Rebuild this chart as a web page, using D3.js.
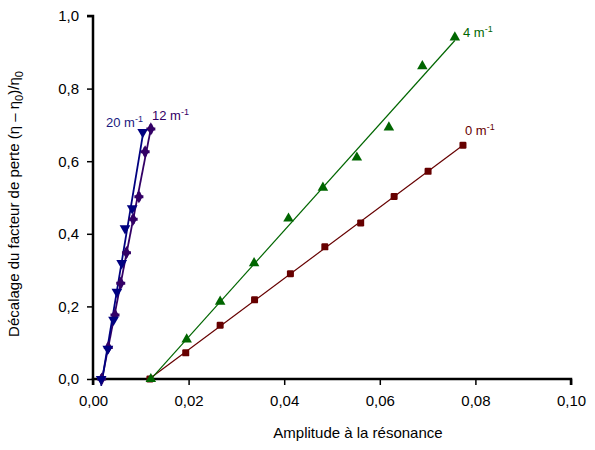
<!DOCTYPE html>
<html><head><meta charset="utf-8">
<script src="https://cdn.jsdelivr.net/npm/d3@7"></script>
<style>body{margin:0;background:#fff}svg{display:block}text{font-family:"Liberation Sans",Arial,sans-serif}</style>
</head><body>
<svg id="c" width="595" height="450"></svg>
<script>
const xTicks = [0, 0.02, 0.04, 0.06, 0.08, 0.10];
const yTicks = [0, 0.2, 0.4, 0.6, 0.8, 1.0];
const xTickLabels = ["0,00", "0,02", "0,04", "0,06", "0,08", "0,10"];
const yTickLabels = ["0,0", "0,2", "0,4", "0,6", "0,8", "1,0"];

const seriesNames = ["0", "4", "12", "20"];
const s0X = [0.0119, 0.0194, 0.0266, 0.0338, 0.0413, 0.0485, 0.0560, 0.0630, 0.0701, 0.0774];
const s0Y = [0.000, 0.072, 0.148, 0.218, 0.290, 0.364, 0.430, 0.503, 0.572, 0.644];
const s4X = [0.0121, 0.0196, 0.0266, 0.0337, 0.0409, 0.0481, 0.0552, 0.0619, 0.0689, 0.0757];
const s4Y = [0.000, 0.109, 0.213, 0.319, 0.442, 0.527, 0.610, 0.693, 0.862, 0.941];
const s12X = [0.0018, 0.0032, 0.0046, 0.0058, 0.0070, 0.0084, 0.0096, 0.0109, 0.0121];
const s12Y = [0.000, 0.087, 0.176, 0.264, 0.348, 0.440, 0.502, 0.626, 0.689];
const s20X = [0.0017, 0.0031, 0.0043, 0.0050, 0.0060, 0.0067, 0.0082, 0.0104];
const s20Y = [0.000, 0.083, 0.163, 0.240, 0.319, 0.415, 0.470, 0.680];

const svg = d3.select("#c");
const x = d3.scaleLinear().domain([0, 0.1]).range([93, 571]);
const y = d3.scaleLinear().domain([0, 1]).range([379, 16]);

function fit(xs, ys) {
  const n = xs.length, mx = d3.mean(xs), my = d3.mean(ys);
  let sxy = 0, sxx = 0;
  for (let i = 0; i < n; i++) { sxy += (xs[i]-mx)*(ys[i]-my); sxx += (xs[i]-mx)**2; }
  const b = sxy / sxx, a = my - b*mx;
  const x0 = d3.min(xs), x1 = d3.max(xs);
  return [[x0, a + b*x0], [x1, a + b*x1]];
}

const series = [
  {name: "0", xs: s0X, ys: s0Y, color: "#660000", sym: "square"},
  {name: "4", xs: s4X, ys: s4Y, color: "#006600", sym: "tri"},
  {name: "12", xs: s12X, ys: s12Y, color: "#330066", sym: "star"},
  {name: "20", xs: s20X, ys: s20Y, color: "#000080", sym: "tridown"}
];

// axes
const gx = svg.append("g").attr("transform", "translate(0,379)")
  .call(d3.axisBottom(x).tickValues(xTicks).tickFormat((d,i)=>xTickLabels[i]).tickSize(6).tickPadding(10));
const gy = svg.append("g").attr("transform", "translate(93,0)")
  .call(d3.axisLeft(y).tickValues(yTicks).tickFormat((d,i)=>yTickLabels[i]).tickSize(6).tickPadding(8));
[gx, gy].forEach(g => {
  g.select(".domain").attr("stroke", "#000").attr("stroke-width", 2.5);
  g.selectAll(".tick line").attr("stroke", "#000").attr("stroke-width", 1.5);
  g.selectAll(".tick text").attr("fill", "#000").style("font-size", "15px").style("font-family", '"Liberation Sans",Arial,sans-serif');
});
gy.select(".domain").attr("d", "M-6,16H0V379");
gx.select(".domain").attr("d", "M93,6V0H571V6");

// lines and markers
const line = d3.line().x(d => x(d[0])).y(d => y(d[1]));
series.forEach(s => {
  svg.append("path").attr("d", line(fit(s.xs, s.ys))).attr("fill", "none")
    .attr("stroke", s.color).attr("stroke-width", s.sym === "star" || s.sym === "tridown" ? 1.8 : 1.2);
});
series.forEach(s => {
  const g = svg.append("g").attr("fill", s.color);
  s.xs.forEach((xv, i) => {
    const cx = x(xv), cy = y(s.ys[i]);
    if (s.sym === "square") {
      g.append("rect").attr("x", cx-3.5).attr("y", cy-3.5).attr("width", 7).attr("height", 7).attr("rx", 1.2);
    } else if (s.sym === "tri") {
      g.append("path").attr("d", d3.symbol(d3.symbolTriangle, 48)()).attr("transform", `translate(${cx},${cy})`);
    } else if (s.sym === "tridown") {
      g.append("path").attr("d", d3.symbol(d3.symbolTriangle, 50)()).attr("transform", `translate(${cx},${cy}) rotate(180)`);
    } else {
      g.append("path").attr("d", d3.symbol(d3.symbolDiamond, 50)()).attr("transform", `translate(${cx},${cy})`);
      g.append("path").attr("d", d3.symbol(d3.symbolCross, 45)()).attr("transform", `translate(${cx},${cy})`);
    }
  });
});

// series labels
const labels = [
  {text: "20 m", x: 106, y: 127, color: "#1a1a80"},
  {text: "12 m", x: 152, y: 120, color: "#330066"},
  {text: "4 m", x: 463, y: 37, color: "#006600"},
  {text: "0 m", x: 465, y: 135, color: "#660000"}
];
labels.forEach(l => {
  const t = svg.append("text").attr("x", l.x).attr("y", l.y).attr("fill", l.color).style("font-size", "13px");
  t.append("tspan").text(l.text);
  t.append("tspan").attr("dy", -5).style("font-size", "9px").text("-1");
});

// axis titles
svg.append("text").attr("x", 358).attr("y", 438).attr("text-anchor", "middle")
  .style("font-size", "15px").attr("fill", "#000").text("Amplitude à la résonance");
const yt = svg.append("text").attr("transform", "translate(19,204) rotate(-90)").attr("text-anchor", "middle")
  .style("font-size", "15px").attr("fill", "#000");
yt.append("tspan").text("Décalage du facteur de perte (η – η");
yt.append("tspan").attr("dy", 4).style("font-size", "11px").text("0");
yt.append("tspan").attr("dy", -4).text(")/η");
yt.append("tspan").attr("dy", 4).style("font-size", "11px").text("0");
</script>
</body></html>
